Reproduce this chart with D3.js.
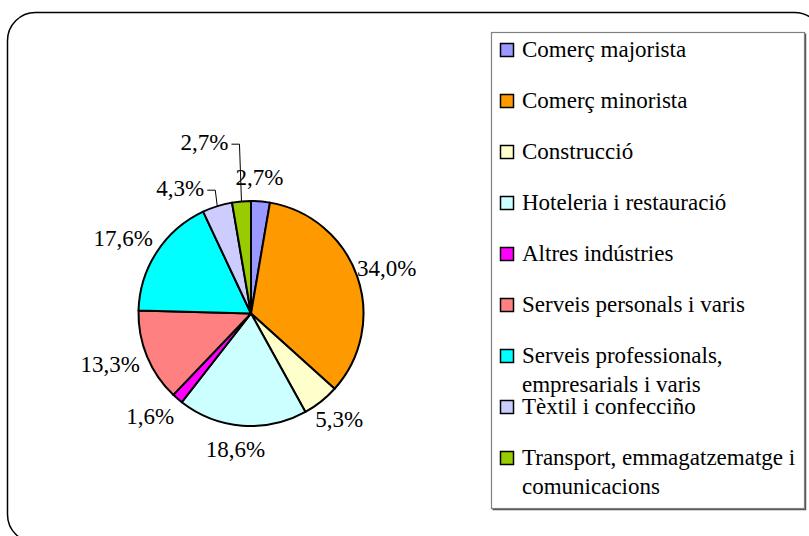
<!DOCTYPE html>
<html>
<head>
<meta charset="utf-8">
<script src="https://cdn.jsdelivr.net/npm/d3@7"></script>
<style>
  body { margin: 0; background: #fff; }
</style>
</head>
<body>
<svg id="chart" width="809" height="536"></svg>
<script>
// Sector shares (%), in drawing order, clockwise from 12 o'clock
const categories = [
  "Comerç majorista",
  "Comerç minorista",
  "Construcció",
  "Hoteleria i restauració",
  "Altres indústries",
  "Serveis personals i varis",
  "Serveis professionals, empresarials i varis",
  "Tèxtil i confecciño",
  "Transport, emmagatzematge i comunicacions"
];
const shares = [2.7, 34.0, 5.3, 18.6, 1.6, 13.3, 17.6, 4.3, 2.7];
const colors = ["#9999FF", "#FF9900", "#FFFFCC", "#CCFFFF", "#FF00FF", "#FF8080", "#00FFFF", "#CCCCFF", "#99CC00"];

const svg = d3.select("#chart");
const fontSize = 23;
const serif = "'Liberation Serif', 'Times New Roman', 'DejaVu Serif', serif";

// Frame with rounded corners
svg.append("rect")
  .attr("x", 7.5).attr("y", 12.5)
  .attr("width", 815).attr("height", 530)
  .attr("rx", 28).attr("ry", 28)
  .attr("fill", "#fff").attr("stroke", "#000").attr("stroke-width", 1.5);

// Pie
const cx = 251, cy = 313.5, r = 112.5;
const data = categories.map((c, i) => ({ name: c, value: shares[i], color: colors[i] }));
const pie = d3.pie().sort(null).value(d => d.value).startAngle(0).endAngle(2 * Math.PI);
const arcs = pie(data);
const arc = d3.arc().innerRadius(0).outerRadius(r);
const edgeArc = d3.arc().innerRadius(r).outerRadius(r);

const g = svg.append("g").attr("transform", `translate(${cx},${cy})`);
g.selectAll("path.slice")
  .data(arcs)
  .join("path")
  .attr("class", "slice")
  .attr("d", arc)
  .attr("fill", d => d.data.color)
  .attr("stroke", "#000")
  .attr("stroke-width", 2)
  .attr("stroke-linejoin", "round");

const fmt = v => d3.format(".1f")(v).replace(".", ",") + "%";
const midAngle = a => (a.startAngle + a.endAngle) / 2;

// Value labels sit on a slightly flattened ring around the pie
const labelRx = 148, labelRy = 136.5, labelDx = -4;
const labelPos = a => {
  const t = midAngle(a);
  return [labelDx + labelRx * Math.sin(t), -labelRy * Math.cos(t)];
};

// Small slices in the upper-left quarter get elbow leaders, stacked upwards
const leaderIdx = arcs
  .filter(a => a.data.value < 5 && midAngle(a) > 1.5 * Math.PI)
  .map(a => a.index);

const labelG = g.append("g")
  .attr("font-family", serif)
  .attr("font-size", fontSize);

arcs.forEach(a => {
  if (leaderIdx.includes(a.index)) return;
  const [lx, ly] = labelPos(a);
  labelG.append("text")
    .attr("x", lx).attr("y", ly + 7)
    .attr("text-anchor", "middle")
    .text(fmt(a.data.value));
});

let prevElbowY = Infinity;
leaderIdx.slice().sort((a, b) => a - b).forEach(idx => {
  const a = arcs[idx];
  const [ax, ay] = edgeArc.centroid(a);
  const ex = ax - 2;
  const ey = Math.min(ay - 16, prevElbowY - 46);
  prevElbowY = ey;
  labelG.append("path")
    .attr("d", `M${ax},${ay} L${ex},${ey} L${ex - 8},${ey}`)
    .attr("fill", "none").attr("stroke", "#000").attr("stroke-width", 1);
  labelG.append("text")
    .attr("x", ex - 11).attr("y", ey + 6)
    .attr("text-anchor", "end")
    .text(fmt(a.data.value));
});

// Legend
const lg = svg.append("g")
  .attr("font-family", serif)
  .attr("font-size", fontSize);
const box = { x: 491.5, y: 32.5, w: 313, h: 476 };
lg.append("path")
  .attr("d", `M${box.x + box.w + 1},${box.y + 1} V${box.y + box.h + 1} H${box.x + 1}`)
  .attr("fill", "none").attr("stroke", "#555").attr("stroke-width", 1.5);
lg.append("rect")
  .attr("x", box.x).attr("y", box.y).attr("width", box.w).attr("height", box.h)
  .attr("fill", "#fff").attr("stroke", "#808080").attr("stroke-width", 1.2);

const rowY = d3.scalePoint().domain(categories).range([57, 465]);
const textX = 522, maxTextW = 290;

categories.forEach((c, i) => {
  const y = rowY(c);
  lg.append("rect")
    .attr("x", 500.5).attr("y", y - 13.5)
    .attr("width", 13).attr("height", 13)
    .attr("fill", colors[i]).attr("stroke", "#000").attr("stroke-width", 1.5);
  const t = lg.append("text").attr("x", textX).attr("y", y);
  // word wrap within the legend box
  const words = c.split(" ");
  let line = [];
  let lineNo = 0;
  let tspan = t.append("tspan").attr("x", textX).attr("y", y);
  words.forEach(w => {
    line.push(w);
    tspan.text(line.join(" "));
    if (tspan.node().getComputedTextLength() > maxTextW && line.length > 1) {
      line.pop();
      tspan.text(line.join(" "));
      line = [w];
      lineNo++;
      tspan = t.append("tspan").attr("x", textX).attr("y", y + 29 * lineNo).text(w);
    }
  });
});
</script>
</body>
</html>
